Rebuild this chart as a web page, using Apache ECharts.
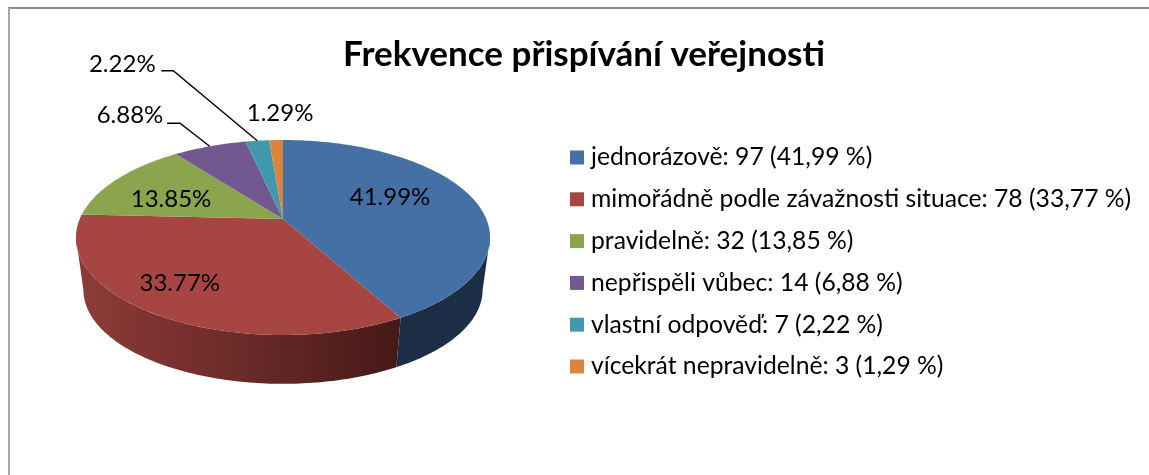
<!DOCTYPE html>
<html><head><meta charset="utf-8">
<style>html,body{margin:0;padding:0;background:#fff}#c{width:1149px;height:475px}</style>
<script src="https://cdn.jsdelivr.net/npm/echarts@6/dist/echarts.min.js"></script>
</head><body><div id="c"></div>
<script>
const categories = ['jednorázově','mimořádně podle závažnosti situace','pravidelně','nepřispěli vůbec','vlastní odpověď','vícekrát nepravidelně'];
const counts = [97,78,32,14,7,3];
const percents = [41.99,33.77,13.85,6.88,2.22,1.29];
const colors = ['#4470a5','#a64542','#8aa54e','#71588f','#4198af','#db843d'];

// pie projection (a tilted disc with perspective)
const FONT = 'Lato';
const CX = 283, TOP_CY = 219, BOTTOM_CY = 272, A = 203.3, B = 94, K = -0.1897, BOTTOM_SCALE = 0.964;
const FRONT_FROM = 101, FRONT_TO = 259;
const wallFill = [
  '#1b2e46',
  {type:'linear',x:0,y:0,x2:1,y2:0,colorStops:[{offset:0,color:'#8f3b38'},{offset:0.5,color:'#6b2b29'},{offset:1,color:'#451917'}]}
];
// label offset from the slice's rim mid point; leader = elbow and end offsets
const labelOffsets = [[-81,1],[25,-31],[53.5,20],[-79.6,-31],[-135,-76],[4,-27]];
const leaders = [null,null,null,[[-29.6,-23],[-42.6,-23]],[[-84,-70],[-96,-70]],null];

function project(deg, lower){
  const t = deg*Math.PI/180, u = Math.sin(t), v = -Math.cos(t), d = 1+K*v;
  const s = lower ? BOTTOM_SCALE : 1, cy = lower ? BOTTOM_CY : TOP_CY;
  return [CX + s*A*u/d, cy + s*B*v/d];
}
function arc(from,to,lower){
  const n = Math.max(2,Math.ceil(Math.abs(to-from))), pts=[];
  for(let i=0;i<=n;i++) pts.push(project(from+(to-from)*i/n,lower));
  return pts;
}
const total = percents.reduce((a,b)=>a+b,0);
let running = 0;
const spans = percents.map(p=>{const s=running/total*360; running+=p; return [s,running/total*360];});

const series = categories.map((cat,i)=>({
  type:'custom',
  name:`${cat}: ${counts[i]} (${percents[i].toFixed(2).replace('.',',')} %)`,
  coordinateSystem:'none',
  silent:true,
  animation:false,
  itemStyle:{color:colors[i]},
  z: 2,
  data:[[percents[i]]],
  renderItem(){
    const [a0,a1] = spans[i], children = [];
    const f0 = Math.max(a0,FRONT_FROM), f1 = Math.min(a1,FRONT_TO);
    if(f1>f0){
      children.push({type:'polygon',shape:{points:arc(f0,f1,false).concat(arc(f1,f0,true))},
        style:{fill:wallFill[i]}});
    }
    children.push({type:'polygon',shape:{points:[[CX,TOP_CY]].concat(arc(a0,a1,false))},
      style:{fill:colors[i]}});
    const mid = project((a0+a1)/2,false);
    if(leaders[i]){
      children.push({type:'polyline',shape:{points:[mid].concat(leaders[i].map(o=>[mid[0]+o[0],mid[1]+o[1]]))},
        style:{stroke:'#000',lineWidth:1.4,fill:null}});
    }
    children.push({type:'text',x:mid[0]+labelOffsets[i][0],y:mid[1]+labelOffsets[i][1],
      style:{text:percents[i].toFixed(2)+'%',font:`24px ${FONT}`,fill:'#000',align:'center',verticalAlign:'middle'}});
    return {type:'group',children};
  }
}));

const chart = echarts.init(document.getElementById('c'),null,{renderer:'canvas'});
chart.setOption({
  animation:false,
  backgroundColor:'#fff',
  title:{text:'Frekvence přispívání veřejnosti',left:579,top:32,textAlign:'center',
    textStyle:{fontFamily:FONT,fontWeight:'bold',fontSize:35,color:'#000'}},
  legend:{orient:'vertical',left:565,top:140,itemWidth:14,itemHeight:14,itemGap:16.8,icon:'rect',
    selectedMode:false,data:series.map(s=>s.name),
    textStyle:{fontFamily:FONT,fontSize:24.7,lineHeight:23,color:'#000',padding:[0,0,0,2]}},
  graphic:[
    {type:'line',shape:{x1:8,y1:8,x2:1149,y2:8},style:{stroke:'#8f8f8f',lineWidth:2}},
    {type:'line',shape:{x1:9,y1:8,x2:9,y2:475},style:{stroke:'#a6a6a6',lineWidth:2}}
  ],
  series
});
</script></body></html>
